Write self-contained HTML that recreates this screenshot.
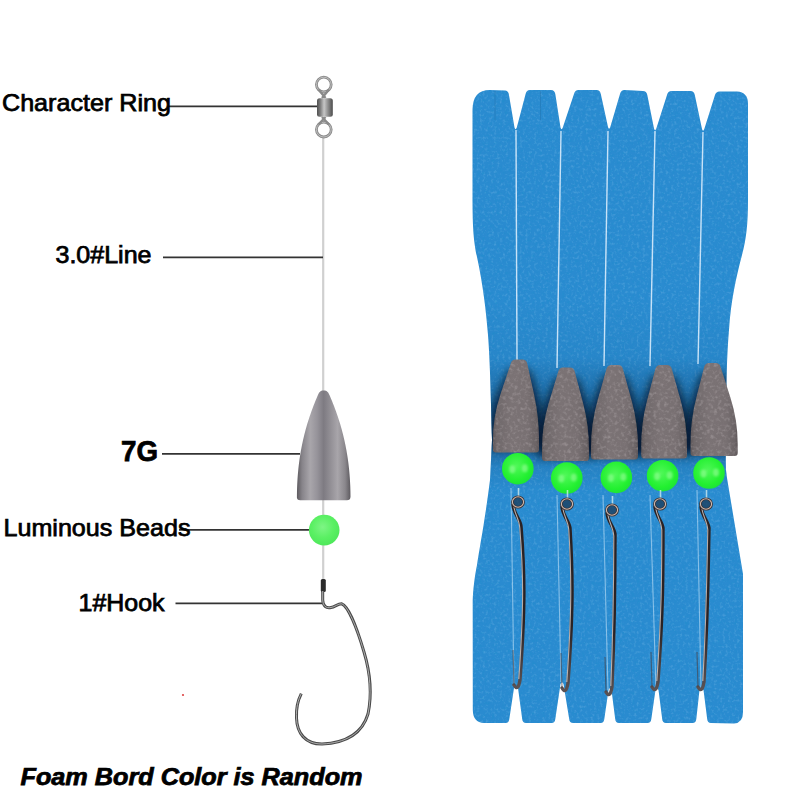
<!DOCTYPE html>
<html><head><meta charset="utf-8"><style>
html,body{margin:0;padding:0;background:#fff;width:801px;height:801px;overflow:hidden}
svg{display:block}
</style></head><body>
<svg width="801" height="801" viewBox="0 0 801 801">
<defs>
<linearGradient id="lw" x1="0" x2="1" y1="0" y2="0">
 <stop offset="0" stop-color="#5d5a5f"/><stop offset="0.1" stop-color="#87848a"/><stop offset="0.25" stop-color="#a9a6ab"/><stop offset="0.38" stop-color="#96939a"/>
 <stop offset="0.5" stop-color="#7e7b82"/><stop offset="0.62" stop-color="#918e94"/><stop offset="0.76" stop-color="#a8a5aa"/><stop offset="0.9" stop-color="#8a878c"/><stop offset="1" stop-color="#5d5a5f"/>
</linearGradient>
<linearGradient id="bw" x1="0" x2="1" y1="0" y2="0">
 <stop offset="0" stop-color="#5e5759"/><stop offset="0.08" stop-color="#6f686a"/><stop offset="0.4" stop-color="#7b7375"/>
 <stop offset="0.75" stop-color="#787072"/><stop offset="0.94" stop-color="#6a6365"/><stop offset="1" stop-color="#5c5557"/>
</linearGradient>
<radialGradient id="bd" cx="0.45" cy="0.4" r="0.6">
 <stop offset="0" stop-color="#7ef585"/><stop offset="0.6" stop-color="#5af063"/><stop offset="1" stop-color="#4ee85a"/>
</radialGradient>
<radialGradient id="bd2" cx="0.45" cy="0.42" r="0.6">
 <stop offset="0" stop-color="#50f858"/><stop offset="0.75" stop-color="#22f030"/><stop offset="1" stop-color="#1ee238"/>
</radialGradient>
<linearGradient id="barrel" x1="0" x2="1" y1="0" y2="0">
 <stop offset="0" stop-color="#505050"/><stop offset="0.2" stop-color="#7a7a7a"/><stop offset="0.45" stop-color="#c6c6c6"/><stop offset="0.7" stop-color="#8e8e8e"/><stop offset="1" stop-color="#4c4c4c"/>
</linearGradient>
<linearGradient id="shade" x1="0" x2="0" y1="0" y2="1">
 <stop offset="0" stop-color="#04284d" stop-opacity="0"/>
 <stop offset="0.3" stop-color="#04284d" stop-opacity="0.05"/>
 <stop offset="0.5" stop-color="#04284d" stop-opacity="0.3"/>
 <stop offset="0.78" stop-color="#04284d" stop-opacity="0.4"/>
 <stop offset="0.88" stop-color="#04284d" stop-opacity="0.1"/>
 <stop offset="1" stop-color="#04284d" stop-opacity="0"/>
</linearGradient>
<filter id="blur6" x="-50%" y="-50%" width="200%" height="200%"><feGaussianBlur stdDeviation="7"/></filter>
<filter id="speck" x="0" y="0" width="100%" height="100%">
 <feTurbulence type="fractalNoise" baseFrequency="0.28" numOctaves="2" seed="7" result="n"/>
 <feColorMatrix in="n" type="matrix" values="0 0 0 0 0.80  0 0 0 0 0.74  0 0 0 0 0.76  3 0 0 0 -1.45" result="s"/>
 <feComposite in="s" in2="SourceGraphic" operator="in"/>
</filter>
<filter id="speckd" x="0" y="0" width="100%" height="100%">
 <feTurbulence type="fractalNoise" baseFrequency="0.3" numOctaves="2" seed="11" result="n"/>
 <feColorMatrix in="n" type="matrix" values="0 0 0 0 0.25  0 0 0 0 0.2  0 0 0 0 0.22  -3 0 0 0 1.45" result="s"/>
 <feComposite in="s" in2="SourceGraphic" operator="in"/>
</filter>
<filter id="bspeck" x="0" y="0" width="100%" height="100%">
 <feTurbulence type="fractalNoise" baseFrequency="0.35" numOctaves="2" seed="3" result="n"/>
 <feColorMatrix in="n" type="matrix" values="0 0 0 0 0.55  0 0 0 0 0.8  0 0 0 0 1  3 0 0 0 -1.5" result="s"/>
 <feComposite in="s" in2="SourceGraphic" operator="in"/>
</filter>
<filter id="bspeckd" x="0" y="0" width="100%" height="100%">
 <feTurbulence type="fractalNoise" baseFrequency="0.4" numOctaves="2" seed="19" result="n"/>
 <feColorMatrix in="n" type="matrix" values="0 0 0 0 0  0 0 0 0 0.3  0 0 0 0 0.55  -3 0 0 0 1.5" result="s"/>
 <feComposite in="s" in2="SourceGraphic" operator="in"/>
</filter>
<linearGradient id="hookg" x1="0" x2="0" y1="0" y2="1">
 <stop offset="0" stop-color="#2a2224"/><stop offset="0.65" stop-color="#2a2224"/><stop offset="0.88" stop-color="#4a4244"/><stop offset="1" stop-color="#5a5254"/>
</linearGradient>
<filter id="blur1" x="-50%" y="-50%" width="200%" height="200%"><feGaussianBlur stdDeviation="1.2"/></filter>
<filter id="blur4" x="-50%" y="-50%" width="200%" height="200%"><feGaussianBlur stdDeviation="4"/></filter>
<filter id="blur3" x="-50%" y="-50%" width="200%" height="200%"><feGaussianBlur stdDeviation="3"/></filter>
<clipPath id="bc"><path d="M472.5,110 Q472.5,90 490,90 L505,90.5 Q508,90.5 508.8,94 L514.5,127.5 Q515.5,131 516.8,127.5 L525.6,94 Q526.5,90 530,90 L551,90 Q554.5,90 555.3,94 L560.5,127.5 Q561.5,131 562.8,127.5 L574,94 Q575,90 578.5,90 L596.5,90 Q600,90 600.8,94 L608,127 Q609,130.5 610.3,127 L620,94 Q621,90 624.5,90 L643,91 Q646.5,91 647.3,95 L654,128.5 Q655,132 656.3,128.5 L667,95 Q668,91 671.5,91 L690.5,91 Q694,91 694.8,95 L702,129 Q703,132.5 704.3,129 L715,95 Q716,91.5 719.5,91.5 L737,91.5 Q748,92 748,104 L748,200 C748,225 746,240 742,255 C736,278 731,300 729,330 C727,355 726,380 726,470 L727,478 L743,574 L743,712 Q743,723 734,723.5 L711,723 Q707.5,723 707.2,719 L703.5,690 Q701.5,686.5 699.5,690 L696.3,719 Q696,723 692.5,723 L666,723 Q662.5,723 662.2,719 L658.5,690 Q657,686.5 655.5,690 L651.3,719 Q651,723 647.5,723 L619,723 Q615.5,723 615.2,719 L611.5,690 Q610,686.5 608.5,690 L604.3,719 Q604,723 600.5,723 L573,723 Q569.5,723 569.2,719 L563.5,684 Q562,680.5 560.5,684 L555.3,719 Q555,723 551.5,723 L526,723 Q522.5,723 522.2,719 L518,688 Q516,684.5 514,688 L509.3,719 Q509,723 505.5,723 L484,723 Q473,722.5 472.8,710 L472.7,600 C473.5,585 475,575 477,565 C480,545 485,520 490,480 L492,440 C491,400 490,360 488,335 C486,310 483,285 477,257 C474,243 472.6,230 472.5,200 Z"/></clipPath>
</defs>
<rect width="801" height="801" fill="#fff"/>
<path d="M472.5,110 Q472.5,90 490,90 L505,90.5 Q508,90.5 508.8,94 L514.5,127.5 Q515.5,131 516.8,127.5 L525.6,94 Q526.5,90 530,90 L551,90 Q554.5,90 555.3,94 L560.5,127.5 Q561.5,131 562.8,127.5 L574,94 Q575,90 578.5,90 L596.5,90 Q600,90 600.8,94 L608,127 Q609,130.5 610.3,127 L620,94 Q621,90 624.5,90 L643,91 Q646.5,91 647.3,95 L654,128.5 Q655,132 656.3,128.5 L667,95 Q668,91 671.5,91 L690.5,91 Q694,91 694.8,95 L702,129 Q703,132.5 704.3,129 L715,95 Q716,91.5 719.5,91.5 L737,91.5 Q748,92 748,104 L748,200 C748,225 746,240 742,255 C736,278 731,300 729,330 C727,355 726,380 726,470 L727,478 L743,574 L743,712 Q743,723 734,723.5 L711,723 Q707.5,723 707.2,719 L703.5,690 Q701.5,686.5 699.5,690 L696.3,719 Q696,723 692.5,723 L666,723 Q662.5,723 662.2,719 L658.5,690 Q657,686.5 655.5,690 L651.3,719 Q651,723 647.5,723 L619,723 Q615.5,723 615.2,719 L611.5,690 Q610,686.5 608.5,690 L604.3,719 Q604,723 600.5,723 L573,723 Q569.5,723 569.2,719 L563.5,684 Q562,680.5 560.5,684 L555.3,719 Q555,723 551.5,723 L526,723 Q522.5,723 522.2,719 L518,688 Q516,684.5 514,688 L509.3,719 Q509,723 505.5,723 L484,723 Q473,722.5 472.8,710 L472.7,600 C473.5,585 475,575 477,565 C480,545 485,520 490,480 L492,440 C491,400 490,360 488,335 C486,310 483,285 477,257 C474,243 472.6,230 472.5,200 Z" fill="#2a8bd0"/>
<path d="M472.5,110 Q472.5,90 490,90 L505,90.5 Q508,90.5 508.8,94 L514.5,127.5 Q515.5,131 516.8,127.5 L525.6,94 Q526.5,90 530,90 L551,90 Q554.5,90 555.3,94 L560.5,127.5 Q561.5,131 562.8,127.5 L574,94 Q575,90 578.5,90 L596.5,90 Q600,90 600.8,94 L608,127 Q609,130.5 610.3,127 L620,94 Q621,90 624.5,90 L643,91 Q646.5,91 647.3,95 L654,128.5 Q655,132 656.3,128.5 L667,95 Q668,91 671.5,91 L690.5,91 Q694,91 694.8,95 L702,129 Q703,132.5 704.3,129 L715,95 Q716,91.5 719.5,91.5 L737,91.5 Q748,92 748,104 L748,200 C748,225 746,240 742,255 C736,278 731,300 729,330 C727,355 726,380 726,470 L727,478 L743,574 L743,712 Q743,723 734,723.5 L711,723 Q707.5,723 707.2,719 L703.5,690 Q701.5,686.5 699.5,690 L696.3,719 Q696,723 692.5,723 L666,723 Q662.5,723 662.2,719 L658.5,690 Q657,686.5 655.5,690 L651.3,719 Q651,723 647.5,723 L619,723 Q615.5,723 615.2,719 L611.5,690 Q610,686.5 608.5,690 L604.3,719 Q604,723 600.5,723 L573,723 Q569.5,723 569.2,719 L563.5,684 Q562,680.5 560.5,684 L555.3,719 Q555,723 551.5,723 L526,723 Q522.5,723 522.2,719 L518,688 Q516,684.5 514,688 L509.3,719 Q509,723 505.5,723 L484,723 Q473,722.5 472.8,710 L472.7,600 C473.5,585 475,575 477,565 C480,545 485,520 490,480 L492,440 C491,400 490,360 488,335 C486,310 483,285 477,257 C474,243 472.6,230 472.5,200 Z" fill="#fff" filter="url(#bspeck)" opacity="0.16"/>
<path d="M472.5,110 Q472.5,90 490,90 L505,90.5 Q508,90.5 508.8,94 L514.5,127.5 Q515.5,131 516.8,127.5 L525.6,94 Q526.5,90 530,90 L551,90 Q554.5,90 555.3,94 L560.5,127.5 Q561.5,131 562.8,127.5 L574,94 Q575,90 578.5,90 L596.5,90 Q600,90 600.8,94 L608,127 Q609,130.5 610.3,127 L620,94 Q621,90 624.5,90 L643,91 Q646.5,91 647.3,95 L654,128.5 Q655,132 656.3,128.5 L667,95 Q668,91 671.5,91 L690.5,91 Q694,91 694.8,95 L702,129 Q703,132.5 704.3,129 L715,95 Q716,91.5 719.5,91.5 L737,91.5 Q748,92 748,104 L748,200 C748,225 746,240 742,255 C736,278 731,300 729,330 C727,355 726,380 726,470 L727,478 L743,574 L743,712 Q743,723 734,723.5 L711,723 Q707.5,723 707.2,719 L703.5,690 Q701.5,686.5 699.5,690 L696.3,719 Q696,723 692.5,723 L666,723 Q662.5,723 662.2,719 L658.5,690 Q657,686.5 655.5,690 L651.3,719 Q651,723 647.5,723 L619,723 Q615.5,723 615.2,719 L611.5,690 Q610,686.5 608.5,690 L604.3,719 Q604,723 600.5,723 L573,723 Q569.5,723 569.2,719 L563.5,684 Q562,680.5 560.5,684 L555.3,719 Q555,723 551.5,723 L526,723 Q522.5,723 522.2,719 L518,688 Q516,684.5 514,688 L509.3,719 Q509,723 505.5,723 L484,723 Q473,722.5 472.8,710 L472.7,600 C473.5,585 475,575 477,565 C480,545 485,520 490,480 L492,440 C491,400 490,360 488,335 C486,310 483,285 477,257 C474,243 472.6,230 472.5,200 Z" fill="#fff" filter="url(#bspeckd)" opacity="0.14"/>
<g clip-path="url(#bc)">
<rect x="470" y="300" width="285" height="190" fill="url(#shade)"/>
<path d="M512.00,369.40 L526.00,369.40 Q530.00,369.40 531.00,373.40 L537.96,396.31 Q543.00,412.90 543.00,432.84 L543.00,445.50 Q543.00,448.50 540.00,448.50 L491.90,448.50 Q488.90,448.50 488.90,445.50 L488.90,432.84 Q488.90,412.90 496.50,396.31 L507.00,373.40 Q508.00,369.40 512.00,369.40 Z" fill="#000510" opacity="0.65" filter="url(#blur4)"/>
<path d="M559.50,377.50 L573.50,377.50 Q577.50,377.50 578.50,381.50 L586.91,404.54 Q593.00,421.23 593.00,441.26 L593.00,454.00 Q593.00,457.00 590.00,457.00 L541.00,457.00 Q538.00,457.00 538.00,454.00 L538.00,441.26 Q538.00,421.23 544.93,404.54 L554.50,381.50 Q555.50,377.50 559.50,377.50 Z" fill="#000510" opacity="0.65" filter="url(#blur4)"/>
<path d="M607.70,375.00 L621.70,375.00 Q625.70,375.00 626.70,379.00 L635.57,402.36 Q642.00,419.27 642.00,439.56 L642.00,452.50 Q642.00,455.50 639.00,455.50 L590.00,455.50 Q587.00,455.50 587.00,452.50 L587.00,439.56 Q587.00,419.27 593.59,402.36 L602.70,379.00 Q603.70,375.00 607.70,375.00 Z" fill="#000510" opacity="0.65" filter="url(#blur4)"/>
<path d="M656.60,375.00 L670.60,375.00 Q674.60,375.00 675.60,379.00 L684.53,402.04 Q691.00,418.73 691.00,438.76 L691.00,451.50 Q691.00,454.50 688.00,454.50 L640.20,454.50 Q637.20,454.50 637.20,451.50 L637.20,438.76 Q637.20,418.73 643.25,402.04 L651.60,379.00 Q652.60,375.00 656.60,375.00 Z" fill="#000510" opacity="0.65" filter="url(#blur4)"/>
<path d="M705.40,373.00 L719.40,373.00 Q723.40,373.00 724.40,377.00 L734.43,399.88 Q741.70,416.45 741.70,436.36 L741.70,449.00 Q741.70,452.00 738.70,452.00 L689.50,452.00 Q686.50,452.00 686.50,449.00 L686.50,436.36 Q686.50,416.45 692.34,399.88 L700.40,377.00 Q701.40,373.00 705.40,373.00 Z" fill="#000510" opacity="0.65" filter="url(#blur4)"/>
</g>
<line x1="516" y1="130" x2="517" y2="360" stroke="#e4f2ff" stroke-width="1.4" opacity="0.85"/>
<line x1="561" y1="131" x2="557" y2="368" stroke="#e4f2ff" stroke-width="1.4" opacity="0.85"/>
<line x1="608" y1="131" x2="604" y2="366" stroke="#e4f2ff" stroke-width="1.4" opacity="0.85"/>
<line x1="655" y1="131" x2="650" y2="366" stroke="#e4f2ff" stroke-width="1.4" opacity="0.85"/>
<line x1="703" y1="132" x2="698" y2="364" stroke="#e4f2ff" stroke-width="1.4" opacity="0.85"/>
<line x1="511" y1="488" x2="514" y2="686" stroke="#c4e2f8" stroke-width="1.1" opacity="0.6"/>
<line x1="557" y1="495" x2="561" y2="682" stroke="#c4e2f8" stroke-width="1.1" opacity="0.6"/>
<line x1="603" y1="495" x2="608" y2="690" stroke="#c4e2f8" stroke-width="1.1" opacity="0.6"/>
<line x1="650" y1="495" x2="656" y2="690" stroke="#c4e2f8" stroke-width="1.1" opacity="0.6"/>
<line x1="697" y1="490" x2="701" y2="690" stroke="#c4e2f8" stroke-width="1.1" opacity="0.6"/>
<line x1="495" y1="91" x2="495" y2="120" stroke="#1f6aa0" stroke-width="1" opacity="0.35"/>
<line x1="540.5" y1="91" x2="540.5" y2="120" stroke="#1f6aa0" stroke-width="1" opacity="0.35"/>
<path d="M515.75,359.40 L522.25,359.40 Q526.25,359.40 527.25,363.40 L534.07,394.56 Q539.00,417.12 539.00,440.58 L539.00,449.50 Q539.00,452.50 536.00,452.50 L495.90,452.50 Q492.90,452.50 492.90,449.50 L492.90,440.58 Q492.90,417.12 500.40,394.56 L510.75,363.40 Q511.75,359.40 515.75,359.40 Z" fill="url(#bw)"/>
<path d="M515.75,359.40 L522.25,359.40 Q526.25,359.40 527.25,363.40 L534.07,394.56 Q539.00,417.12 539.00,440.58 L539.00,449.50 Q539.00,452.50 536.00,452.50 L495.90,452.50 Q492.90,452.50 492.90,449.50 L492.90,440.58 Q492.90,417.12 500.40,394.56 L510.75,363.40 Q511.75,359.40 515.75,359.40 Z" fill="#fff" filter="url(#speck)" opacity="0.22"/>
<path d="M515.75,359.40 L522.25,359.40 Q526.25,359.40 527.25,363.40 L534.07,394.56 Q539.00,417.12 539.00,440.58 L539.00,449.50 Q539.00,452.50 536.00,452.50 L495.90,452.50 Q492.90,452.50 492.90,449.50 L492.90,440.58 Q492.90,417.12 500.40,394.56 L510.75,363.40 Q511.75,359.40 515.75,359.40 Z" fill="#fff" filter="url(#speckd)" opacity="0.2"/>
<path d="M563.25,367.50 L569.75,367.50 Q573.75,367.50 574.75,371.50 L583.01,402.80 Q589.00,425.47 589.00,449.03 L589.00,458.00 Q589.00,461.00 586.00,461.00 L545.00,461.00 Q542.00,461.00 542.00,458.00 L542.00,449.03 Q542.00,425.47 548.83,402.80 L558.25,371.50 Q559.25,367.50 563.25,367.50 Z" fill="url(#bw)"/>
<path d="M563.25,367.50 L569.75,367.50 Q573.75,367.50 574.75,371.50 L583.01,402.80 Q589.00,425.47 589.00,449.03 L589.00,458.00 Q589.00,461.00 586.00,461.00 L545.00,461.00 Q542.00,461.00 542.00,458.00 L542.00,449.03 Q542.00,425.47 548.83,402.80 L558.25,371.50 Q559.25,367.50 563.25,367.50 Z" fill="#fff" filter="url(#speck)" opacity="0.22"/>
<path d="M563.25,367.50 L569.75,367.50 Q573.75,367.50 574.75,371.50 L583.01,402.80 Q589.00,425.47 589.00,449.03 L589.00,458.00 Q589.00,461.00 586.00,461.00 L545.00,461.00 Q542.00,461.00 542.00,458.00 L542.00,449.03 Q542.00,425.47 548.83,402.80 L558.25,371.50 Q559.25,367.50 563.25,367.50 Z" fill="#fff" filter="url(#speckd)" opacity="0.2"/>
<path d="M611.45,365.00 L617.95,365.00 Q621.95,365.00 622.95,369.00 L631.68,400.66 Q638.00,423.59 638.00,447.40 L638.00,456.50 Q638.00,459.50 635.00,459.50 L594.00,459.50 Q591.00,459.50 591.00,456.50 L591.00,447.40 Q591.00,423.59 597.49,400.66 L606.45,369.00 Q607.45,365.00 611.45,365.00 Z" fill="url(#bw)"/>
<path d="M611.45,365.00 L617.95,365.00 Q621.95,365.00 622.95,369.00 L631.68,400.66 Q638.00,423.59 638.00,447.40 L638.00,456.50 Q638.00,459.50 635.00,459.50 L594.00,459.50 Q591.00,459.50 591.00,456.50 L591.00,447.40 Q591.00,423.59 597.49,400.66 L606.45,369.00 Q607.45,365.00 611.45,365.00 Z" fill="#fff" filter="url(#speck)" opacity="0.22"/>
<path d="M611.45,365.00 L617.95,365.00 Q621.95,365.00 622.95,369.00 L631.68,400.66 Q638.00,423.59 638.00,447.40 L638.00,456.50 Q638.00,459.50 635.00,459.50 L594.00,459.50 Q591.00,459.50 591.00,456.50 L591.00,447.40 Q591.00,423.59 597.49,400.66 L606.45,369.00 Q607.45,365.00 611.45,365.00 Z" fill="#fff" filter="url(#speckd)" opacity="0.2"/>
<path d="M660.35,365.00 L666.85,365.00 Q670.85,365.00 671.85,369.00 L680.64,400.30 Q687.00,422.97 687.00,446.53 L687.00,455.50 Q687.00,458.50 684.00,458.50 L644.20,458.50 Q641.20,458.50 641.20,455.50 L641.20,446.53 Q641.20,422.97 647.14,400.30 L655.35,369.00 Q656.35,365.00 660.35,365.00 Z" fill="url(#bw)"/>
<path d="M660.35,365.00 L666.85,365.00 Q670.85,365.00 671.85,369.00 L680.64,400.30 Q687.00,422.97 687.00,446.53 L687.00,455.50 Q687.00,458.50 684.00,458.50 L644.20,458.50 Q641.20,458.50 641.20,455.50 L641.20,446.53 Q641.20,422.97 647.14,400.30 L655.35,369.00 Q656.35,365.00 660.35,365.00 Z" fill="#fff" filter="url(#speck)" opacity="0.22"/>
<path d="M660.35,365.00 L666.85,365.00 Q670.85,365.00 671.85,369.00 L680.64,400.30 Q687.00,422.97 687.00,446.53 L687.00,455.50 Q687.00,458.50 684.00,458.50 L644.20,458.50 Q641.20,458.50 641.20,455.50 L641.20,446.53 Q641.20,422.97 647.14,400.30 L655.35,369.00 Q656.35,365.00 660.35,365.00 Z" fill="#fff" filter="url(#speckd)" opacity="0.2"/>
<path d="M709.15,363.00 L715.65,363.00 Q719.65,363.00 720.65,367.00 L730.54,398.12 Q737.70,420.66 737.70,444.10 L737.70,453.00 Q737.70,456.00 734.70,456.00 L693.50,456.00 Q690.50,456.00 690.50,453.00 L690.50,444.10 Q690.50,420.66 696.23,398.12 L704.15,367.00 Q705.15,363.00 709.15,363.00 Z" fill="url(#bw)"/>
<path d="M709.15,363.00 L715.65,363.00 Q719.65,363.00 720.65,367.00 L730.54,398.12 Q737.70,420.66 737.70,444.10 L737.70,453.00 Q737.70,456.00 734.70,456.00 L693.50,456.00 Q690.50,456.00 690.50,453.00 L690.50,444.10 Q690.50,420.66 696.23,398.12 L704.15,367.00 Q705.15,363.00 709.15,363.00 Z" fill="#fff" filter="url(#speck)" opacity="0.22"/>
<path d="M709.15,363.00 L715.65,363.00 Q719.65,363.00 720.65,367.00 L730.54,398.12 Q737.70,420.66 737.70,444.10 L737.70,453.00 Q737.70,456.00 734.70,456.00 L693.50,456.00 Q690.50,456.00 690.50,453.00 L690.50,444.10 Q690.50,420.66 696.23,398.12 L704.15,367.00 Q705.15,363.00 709.15,363.00 Z" fill="#fff" filter="url(#speckd)" opacity="0.2"/>
<circle cx="517.8" cy="468.7" r="15.8" fill="url(#bd2)"/>
<ellipse cx="512.3" cy="469.2" rx="3" ry="4" fill="#a0ffa0" opacity="0.55" filter="url(#blur1)"/>
<ellipse cx="524.8" cy="468.2" rx="3" ry="4" fill="#a0ffa0" opacity="0.55" filter="url(#blur1)"/>
<circle cx="566.8" cy="478" r="15.8" fill="url(#bd2)"/>
<ellipse cx="561.3" cy="478.5" rx="3" ry="4" fill="#a0ffa0" opacity="0.55" filter="url(#blur1)"/>
<ellipse cx="573.8" cy="477.5" rx="3" ry="4" fill="#a0ffa0" opacity="0.55" filter="url(#blur1)"/>
<circle cx="616.4" cy="477.4" r="15.8" fill="url(#bd2)"/>
<ellipse cx="610.9" cy="477.9" rx="3" ry="4" fill="#a0ffa0" opacity="0.55" filter="url(#blur1)"/>
<ellipse cx="623.4" cy="476.9" rx="3" ry="4" fill="#a0ffa0" opacity="0.55" filter="url(#blur1)"/>
<circle cx="662.6" cy="475.7" r="15.8" fill="url(#bd2)"/>
<ellipse cx="657.1" cy="476.2" rx="3" ry="4" fill="#a0ffa0" opacity="0.55" filter="url(#blur1)"/>
<ellipse cx="669.6" cy="475.2" rx="3" ry="4" fill="#a0ffa0" opacity="0.55" filter="url(#blur1)"/>
<circle cx="709" cy="473" r="15.8" fill="url(#bd2)"/>
<ellipse cx="703.5" cy="473.5" rx="3" ry="4" fill="#a0ffa0" opacity="0.55" filter="url(#blur1)"/>
<ellipse cx="716" cy="472.5" rx="3" ry="4" fill="#a0ffa0" opacity="0.55" filter="url(#blur1)"/>
<path d="M513,505 C514,514 520,519 521,526 C525,576 525,610 520,680 Q518,692 514,685" fill="none" stroke="url(#hookg)" stroke-width="3.4" stroke-linecap="round"/>
<path d="M513.8,506 C514.6,514 519.2,519 519.8,528 C523.7,576 523.7,610 518.8,679" fill="none" stroke="#cfc4c0" stroke-width="1.1" opacity="0.85"/>
<path d="M514,685 L513,650" fill="none" stroke="#4a4042" stroke-width="1.2" opacity="0.6"/>
<line x1="518.5" y1="496" x2="518.5" y2="488" stroke="#d8f0f0" stroke-width="1.6" opacity="0.75"/>
<ellipse cx="518" cy="502" rx="5.6" ry="5.2" fill="#1a3550" fill-opacity="0.7" stroke="#3a3234" stroke-width="2.6"/>
<ellipse cx="518" cy="502" rx="5.6" ry="5.2" fill="none" stroke="#cdb8ae" stroke-width="1.1"/>
<path d="M562,507 C563,516 569,521 570,528 C573,578 573,613 568,683 Q566,695 562,688" fill="none" stroke="url(#hookg)" stroke-width="3.4" stroke-linecap="round"/>
<path d="M562.8,508 C563.6,516 568.2,521 568.8,530 C571.7,578 571.7,613 566.8,682" fill="none" stroke="#cfc4c0" stroke-width="1.1" opacity="0.85"/>
<path d="M562,688 L561,653" fill="none" stroke="#4a4042" stroke-width="1.2" opacity="0.6"/>
<line x1="567.5" y1="498" x2="567.5" y2="490" stroke="#d8f0f0" stroke-width="1.6" opacity="0.75"/>
<ellipse cx="567" cy="504" rx="5.6" ry="5.2" fill="#1a3550" fill-opacity="0.7" stroke="#3a3234" stroke-width="2.6"/>
<ellipse cx="567" cy="504" rx="5.6" ry="5.2" fill="none" stroke="#cdb8ae" stroke-width="1.1"/>
<path d="M607,513 C608,522 614,527 615,534 C615,584 615,617 612,687 Q610,699 606,692" fill="none" stroke="url(#hookg)" stroke-width="3.4" stroke-linecap="round"/>
<path d="M607.8,514 C608.6,522 613.2,527 613.8,536 C613.7,584 613.7,617 610.8,686" fill="none" stroke="#cfc4c0" stroke-width="1.1" opacity="0.85"/>
<path d="M606,692 L605,657" fill="none" stroke="#4a4042" stroke-width="1.2" opacity="0.6"/>
<line x1="612.5" y1="504" x2="612.5" y2="496" stroke="#d8f0f0" stroke-width="1.6" opacity="0.75"/>
<ellipse cx="612" cy="510" rx="5.6" ry="5.2" fill="#1a3550" fill-opacity="0.7" stroke="#3a3234" stroke-width="2.6"/>
<ellipse cx="612" cy="510" rx="5.6" ry="5.2" fill="none" stroke="#cdb8ae" stroke-width="1.1"/>
<path d="M655,507 C656,516 662,521 663,528 C663,578 663,612 658,682 Q656,694 652,687" fill="none" stroke="url(#hookg)" stroke-width="3.4" stroke-linecap="round"/>
<path d="M655.8,508 C656.6,516 661.2,521 661.8,530 C661.7,578 661.7,612 656.8,681" fill="none" stroke="#cfc4c0" stroke-width="1.1" opacity="0.85"/>
<path d="M652,687 L651,652" fill="none" stroke="#4a4042" stroke-width="1.2" opacity="0.6"/>
<line x1="660.5" y1="498" x2="660.5" y2="490" stroke="#d8f0f0" stroke-width="1.6" opacity="0.75"/>
<ellipse cx="660" cy="504" rx="5.6" ry="5.2" fill="#1a3550" fill-opacity="0.7" stroke="#3a3234" stroke-width="2.6"/>
<ellipse cx="660" cy="504" rx="5.6" ry="5.2" fill="none" stroke="#cdb8ae" stroke-width="1.1"/>
<path d="M701,507 C702,516 708,521 709,528 C708,578 708,612 704,682 Q702,694 698,687" fill="none" stroke="url(#hookg)" stroke-width="3.4" stroke-linecap="round"/>
<path d="M701.8,508 C702.6,516 707.2,521 707.8,530 C706.7,578 706.7,612 702.8,681" fill="none" stroke="#cfc4c0" stroke-width="1.1" opacity="0.85"/>
<path d="M698,687 L697,652" fill="none" stroke="#4a4042" stroke-width="1.2" opacity="0.6"/>
<line x1="706.5" y1="498" x2="706.5" y2="490" stroke="#d8f0f0" stroke-width="1.6" opacity="0.75"/>
<ellipse cx="706" cy="504" rx="5.6" ry="5.2" fill="#1a3550" fill-opacity="0.7" stroke="#3a3234" stroke-width="2.6"/>
<ellipse cx="706" cy="504" rx="5.6" ry="5.2" fill="none" stroke="#cdb8ae" stroke-width="1.1"/>
<line x1="323.2" y1="136" x2="323.2" y2="582" stroke="#d0d0d0" stroke-width="2.2"/>
<circle cx="323.8" cy="84.6" r="7.4" fill="none" stroke="#8a8a8a" stroke-width="2.8"/>
<circle cx="323.8" cy="84.6" r="7.4" fill="none" stroke="#c4c4c4" stroke-width="0.9"/>
<path d="M318.5,89.5 L325.5,98 M329,89.5 L322,98" stroke="#8a8a8a" stroke-width="2.4" fill="none"/>
<circle cx="323.8" cy="129.6" r="7.4" fill="none" stroke="#8a8a8a" stroke-width="2.8"/>
<circle cx="323.8" cy="129.6" r="7.4" fill="none" stroke="#c4c4c4" stroke-width="0.9"/>
<path d="M322,117 L329,124.5 M325.5,117 L318.5,124.5" stroke="#8a8a8a" stroke-width="2.4" fill="none"/>
<rect x="317" y="98.2" width="15.8" height="18.5" rx="2.5" fill="url(#barrel)"/>
<g stroke="#333" stroke-width="1.7">
<line x1="168" y1="106.3" x2="317" y2="106.3"/>
<line x1="163" y1="257.4" x2="323" y2="257.4"/>
<line x1="162" y1="453.8" x2="300" y2="453.8"/>
<line x1="179" y1="529.8" x2="310" y2="529.8"/>
<line x1="175.5" y1="603.3" x2="322" y2="603.3"/>
</g>
<path d="M317.70,395.60 C319.01,392.60 320.10,390.60 323.70,390.60 C327.30,390.60 328.39,392.60 329.70,395.60 L330.83,398.22 L331.92,400.83 L332.98,403.44 L334.00,406.06 L334.99,408.68 L335.95,411.29 L336.88,413.91 L337.77,416.52 L338.63,419.13 L339.45,421.75 L340.25,424.37 L341.01,426.98 L341.74,429.60 L342.44,432.21 L343.10,434.82 L343.74,437.44 L344.34,440.06 L344.92,442.67 L345.46,445.29 L345.97,447.90 L346.46,450.51 L346.91,453.13 L347.33,455.75 L347.73,458.36 L348.10,460.98 L348.43,463.59 L348.75,466.20 L349.03,468.82 L349.28,471.44 L349.51,474.05 L349.72,476.66 L349.90,479.28 L350.05,481.89 L350.18,484.51 L350.29,487.12 L350.37,489.74 L350.43,492.36 L350.47,494.97 L350.49,497.58 L350.50,496.70 Q350.40,500.20 346.90,500.20 L300.30,500.20 Q296.80,500.20 296.80,496.70 L296.91,497.58 L296.93,494.97 L296.97,492.36 L297.03,489.74 L297.11,487.12 L297.22,484.51 L297.35,481.89 L297.50,479.28 L297.68,476.66 L297.89,474.05 L298.12,471.44 L298.37,468.82 L298.65,466.20 L298.97,463.59 L299.30,460.98 L299.67,458.36 L300.07,455.75 L300.49,453.13 L300.94,450.51 L301.43,447.90 L301.94,445.29 L302.48,442.67 L303.06,440.06 L303.66,437.44 L304.30,434.82 L304.96,432.21 L305.66,429.60 L306.39,426.98 L307.15,424.37 L307.95,421.75 L308.77,419.13 L309.63,416.52 L310.52,413.91 L311.45,411.29 L312.41,408.68 L313.40,406.06 L314.42,403.44 L315.48,400.83 L316.57,398.22 Z" fill="url(#lw)"/>
<circle cx="324.2" cy="530.1" r="15.3" fill="url(#bd)"/>
<rect x="320.8" y="579" width="5" height="13" rx="1.5" fill="#2c2c2c"/>
<path d="M322.7,591 L322.7,600 C323,606 326,608.5 331,607.5 C335,607 338,603.5 341.8,603.8 C348,606 357,628 364,652 C370,672 372,695 368,714 C362,734 345,743 322,744 C305,744 297,733 296.5,718 C296,708 298,700 301.3,693.6" fill="none" stroke="#4a4a4a" stroke-width="3"/>
<path d="M322.7,591 L322.7,600 C323,606 326,608.5 331,607.5 C335,607 338,603.5 341.8,603.8 C348,606 357,628 364,652 C370,672 372,695 368,714 C362,734 345,743 322,744 C305,744 297,733 296.5,718 C296,708 298,700 301.3,693.6" fill="none" stroke="#c8c8c8" stroke-width="0.8"/>
<circle cx="183" cy="695" r="1.1" fill="#d44"/>
<g fill="#000" stroke="#000" stroke-width="0.75">
<text font-family="Liberation Sans, sans-serif" lengthAdjust="spacingAndGlyphs" x="2" y="111" font-size="24" textLength="169">Character Ring</text>
<text font-family="Liberation Sans, sans-serif" lengthAdjust="spacingAndGlyphs" x="55.5" y="262.5" font-size="23" textLength="96">3.0#Line</text>
<text font-family="Liberation Sans, sans-serif" lengthAdjust="spacingAndGlyphs" x="121" y="461" font-size="29" font-weight="bold" textLength="37">7G</text>
<text font-family="Liberation Sans, sans-serif" lengthAdjust="spacingAndGlyphs" x="3.5" y="535.5" font-size="24" textLength="187">Luminous Beads</text>
<text font-family="Liberation Sans, sans-serif" lengthAdjust="spacingAndGlyphs" x="78.5" y="610.5" font-size="23" textLength="86">1#Hook</text>
<text font-family="Liberation Sans, sans-serif" lengthAdjust="spacingAndGlyphs" x="20.5" y="784.5" font-size="23" font-weight="bold" font-style="italic" textLength="342">Foam Bord Color is Random</text>
</g>
</svg>
</body></html>
